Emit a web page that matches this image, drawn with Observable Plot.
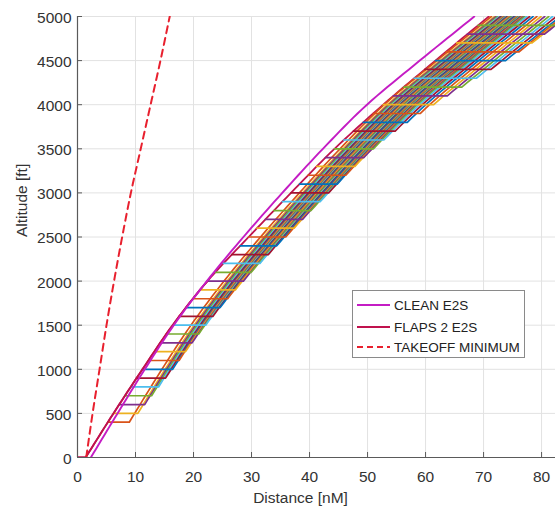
<!DOCTYPE html>
<html><head><meta charset="utf-8">
<script src="https://cdn.jsdelivr.net/npm/d3@7"></script>
<script src="https://cdn.jsdelivr.net/npm/@observablehq/plot@0.6"></script>
<style>
body{margin:0;background:#fff;font-family:"Liberation Sans",Arial,sans-serif;}
#wrap{position:relative;width:555px;height:510px;}
#legend{position:absolute;left:352px;top:290px;width:173px;height:68px;border:1px solid #8a8a8a;background:#fff;box-sizing:border-box;}
#legend .row{position:absolute;left:3px;height:18px;display:flex;align-items:center;font-size:13.5px;color:#222;white-space:nowrap;}
#legend svg{margin-right:3px;}
</style></head><body><div id="wrap"></div><script>
// Altitude nodes (ft) and distances (nM)
const altitudes = [0, 500, 1000, 1500, 2000, 2500, 3000, 3500, 4000, 4500, 5000];
const cleanDist = [2.3, 6.9, 11.6, 16.6, 22.3, 28.6, 35.3, 42.3, 49.9, 59.0, 68.4];
const flapsDist = [1.4, 6.2, 11.2, 16.4, 22.4, 29.5, 36.8, 44.3, 52.7, 61.7, 70.9];
const takeoffDist = [1.5, 2.6, 3.8, 5.0, 6.3, 7.7, 9.2, 10.9, 12.6, 14.3, 15.9];

// Level-off (acceleration) segments: altitude (ft) and level length (nM)
const levelAlts = [400,500,600,700,800,900,1000,1100,1200,1300,1400,1500,1600,1700,1800,1900,2000,2100,2200,2300,2400,2500,2600,2700,2800,2900,3000,3100,3200,3300,3400,3500,3600,3700,3800,3900,4000,4100,4200,4300,4400,4500,4600,4700,4800,4900];
const levelLengths = [3.7,4.2,4.4,4.6,4.8,5.0,5.2,5.3,5.4,5.5,5.6,5.7,5.8,5.9,6.0,6.1,6.2,6.2,6.3,6.3,6.3,6.4,6.4,6.4,6.4,6.5,6.5,6.5,6.5,6.6,6.6,6.7,6.9,7.2,7.6,8.1,8.7,9.3,10.0,10.7,11.4,12.1,12.6,13.0,13.3,13.5];

const seriesColors = ["#0072BD","#D95319","#EDB120","#7E2F8E","#77AC30","#4DBEEE","#A2142F"];
const xTicks = [0,10,20,30,40,50,60,70,80];
const yTicks = [0,500,1000,1500,2000,2500,3000,3500,4000,4500,5000];
const legendLabels = ["CLEAN E2S", "FLAPS 2 E2S", "TAKEOFF MINIMUM"];
const cClean = "#c41cc4", cFlaps = "#c0124e", cTakeoff = "#e8202e";

// smooth (monotone cubic) reading of distance as a function of altitude
function smooth(xs, ys) {
  const n = xs.length, d = [], m = new Array(n);
  for (let i = 0; i < n - 1; i++) d[i] = (ys[i + 1] - ys[i]) / (xs[i + 1] - xs[i]);
  m[0] = d[0]; m[n - 1] = d[n - 2];
  for (let i = 1; i < n - 1; i++) m[i] = d[i - 1] * d[i] <= 0 ? 0 : (d[i - 1] + d[i]) / 2;
  return t => {
    let i = Math.min(n - 2, Math.max(0, d3.bisectRight(xs, t) - 1));
    const h = xs[i + 1] - xs[i], s = (t - xs[i]) / h;
    const h00 = 2*s*s*s - 3*s*s + 1, h10 = s*s*s - 2*s*s + s, h01 = -2*s*s*s + 3*s*s, h11 = s*s*s - s*s;
    return h00 * ys[i] + h10 * h * m[i] + h01 * ys[i + 1] + h11 * h * m[i + 1];
  };
}
const flapsAt = smooth(altitudes, flapsDist);
const cleanAt = smooth(altitudes, cleanDist);
const takeoffAt = smooth(altitudes, takeoffDist);
const sample = d3.range(0, 5001, 50);

const flapsPts = [{x: 0, y: 0}, ...sample.map(a => ({x: flapsAt(a), y: a}))];
const cleanPts = sample.map(a => ({x: cleanAt(a), y: a}));
const takeoffPts = sample.map(a => ({x: takeoffAt(a), y: a}));

const traj = [];
levelAlts.forEach((h, k) => {
  const color = seriesColors[(h / 100 - 3) % 7];
  const start = flapsAt(h);
  const end = start + levelLengths[k];
  traj.push({id: k, color, x: start, y: h});
  traj.push({id: k, color, x: end, y: h});
  sample.filter(a => a > h).forEach(a => traj.push({id: k, color, x: end + cleanAt(a) - cleanAt(h), y: a}));
});

const W = 555, H = 510, mL = 77, mR = 0, mT = 16, mB = 53;
const chart = Plot.plot({
  width: W, height: H,
  marginLeft: mL, marginRight: mR, marginTop: mT, marginBottom: mB,
  x: {domain: [0, 82.4]},
  y: {domain: [0, 5000]},
  color: {type: "identity"},
  style: {fontFamily: "'Liberation Sans', Arial, sans-serif", fontSize: "15px", color: "#333", background: "#fff"},
  marks: [
    Plot.gridX(xTicks, {stroke: "#e2e2e2", strokeOpacity: 1}),
    Plot.gridY(yTicks, {stroke: "#e2e2e2", strokeOpacity: 1}),
    Plot.line(flapsPts, {x: "x", y: "y", stroke: cFlaps, strokeWidth: 1.8, clip: true}),
    Plot.line(traj, {x: "x", y: "y", z: "id", stroke: "color", strokeWidth: 1.7, clip: true}),
    Plot.line(flapsPts.filter(p => p.y <= 2000), {x: "x", y: "y", stroke: cFlaps, strokeWidth: 1.8, clip: true}),
    Plot.line(cleanPts, {x: "x", y: "y", stroke: cClean, strokeWidth: 1.9, clip: true}),
    Plot.line(takeoffPts, {x: "x", y: "y", stroke: cTakeoff, strokeWidth: 2, strokeDasharray: "7,5", clip: true}),
    Plot.ruleX([0], {stroke: "#5a5a5a", strokeWidth: 1.2}),
    Plot.ruleY([0], {stroke: "#5a5a5a", strokeWidth: 1.2}),
    Plot.tickX(xTicks, {x: d => d, insetTop: H - mT - mB - 5, stroke: "#5a5a5a"}),
    Plot.tickY(yTicks, {y: d => d, insetRight: W - mL - mR - 5, stroke: "#5a5a5a"}),
    Plot.axisX(xTicks, {tickSize: 0, tickPadding: 13, label: null, fontSize: 15.5, fill: "#333", tickFormat: d3.format("d")}),
    Plot.axisY(yTicks, {tickSize: 0, tickPadding: 6, dy: 1.5, label: null, fontSize: 15.5, fill: "#333", tickFormat: d3.format("d")}),
    Plot.text(["Distance [nM]"], {frameAnchor: "bottom", dy: 45, dx: -16, fontSize: 15.5, fill: "#333"}),
    Plot.text(["Altitude [ft]"], {frameAnchor: "left", dx: -55, rotate: -90, fontSize: 15.5, fill: "#333"})
  ]
});
const wrap = document.getElementById("wrap");
wrap.appendChild(chart);

const legend = document.createElement("div");
legend.id = "legend";
const styles = [
  {stroke: cClean, dash: null},
  {stroke: cFlaps, dash: null},
  {stroke: cTakeoff, dash: "6,4"}
];
const rowTops = [5, 27, 47];
legendLabels.forEach((lab, i) => {
  const row = document.createElement("div");
  row.className = "row";
  row.style.top = rowTops[i] + "px";
  const s = styles[i];
  row.innerHTML = `<svg width="35" height="10"><line x1="1" y1="5" x2="34" y2="5" stroke="${s.stroke}" stroke-width="2" ${s.dash ? `stroke-dasharray="${s.dash}"` : ""}/></svg><span>${lab}</span>`;
  legend.appendChild(row);
});
wrap.appendChild(legend);
</script></body></html>
